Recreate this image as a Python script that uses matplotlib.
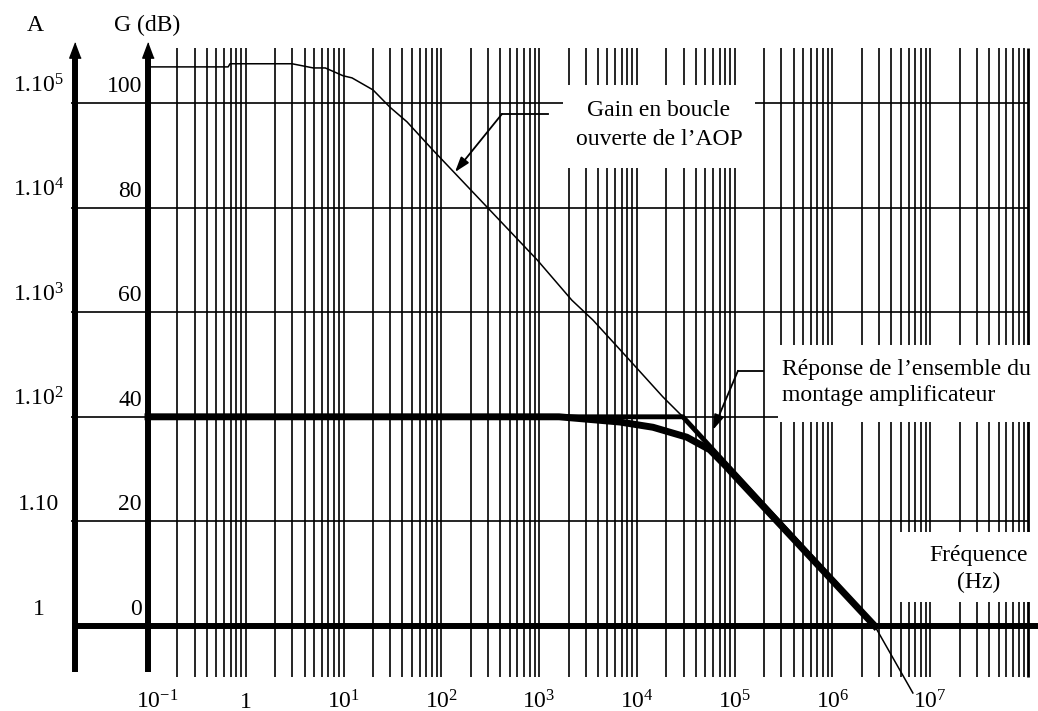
import matplotlib
matplotlib.use('Agg')
import matplotlib.pyplot as plt
from matplotlib.patches import Rectangle

plt.rcParams['font.family'] = ['Liberation Serif', 'DejaVu Serif']
plt.rcParams['mathtext.fontset'] = 'custom'
plt.rcParams['mathtext.rm'] = 'Liberation Serif'
plt.rcParams['mathtext.it'] = 'Liberation Serif:italic'
plt.rcParams['mathtext.bf'] = 'Liberation Serif:bold'
plt.rcParams['font.size'] = 17

# open loop gain of the AOP
freq_open = [0.1, 0.66, 0.69, 2.97, 4.9, 6.5, 9.9, 12.2, 20, 29.8, 44.5, 82,
             955, 2160, 3550, 7900, 18450, 29500, 2.71e6, 6.64e6]
gain_open = [106.9, 106.9, 107.5, 107.5, 106.7, 106.7, 105.2, 104.8, 102.5, 99.2,
             96.4, 91.0, 70.0, 62.3, 58.5, 51.4, 43.8, 40.0, 0.0, -12.8]

# closed loop response: asymptotes + real curve
freq_asym = [0.1, 2.95e4, 2.71e6]
gain_asym = [40, 40, 0]
freq_real = [0.1, 1600, 6700, 14600, 32400, 55700, 83000, 93600, 2.71e6]
gain_real = [40, 40, 39.0, 38.0, 36.1, 33.7, 30.4, 29.3, 0]

# axis graduations
g_ticks = [0, 20, 40, 60, 80, 100]
a_labels = ['1', '1.10', r'$\mathregular{1.10^2}$', r'$\mathregular{1.10^3}$',
            r'$\mathregular{1.10^4}$', r'$\mathregular{1.10^5}$']
decades = [1e-1, 1, 1e1, 1e2, 1e3, 1e4, 1e5, 1e6, 1e7]
decade_labels = [r'$\mathregular{10^{-1}}$', '1', r'$\mathregular{10^{1}}$',
                 r'$\mathregular{10^{2}}$', r'$\mathregular{10^{3}}$',
                 r'$\mathregular{10^{4}}$', r'$\mathregular{10^{5}}$',
                 r'$\mathregular{10^{6}}$', r'$\mathregular{10^{7}}$']

fig = plt.figure(figsize=(10.38, 7.11), dpi=100)
ax = fig.add_axes([0, 0, 1, 1])
ax.set_xscale('log')
ax.set_xlim(10 ** -2.5136, 10 ** 8.102)
ax.set_ylim(-16.25, 119.69)
ax.axis('off')

# log paper grid
grid_f = [k * 10.0 ** n for n in range(-1, 8) for k in range(2, 11)]
ax.vlines(grid_f[:-1], -9.75, 110.5, color='k', lw=1.2, zorder=2)
ax.vlines(grid_f[-1], -9.75, 110.5, color='k', lw=2.0, zorder=2)
ax.hlines(g_ticks[1:], 0.01633, 1e8, color='k', lw=1.2, zorder=2)
ax.hlines(0, 0.0166, 1e9, color='k', lw=4.3, zorder=2)

# the two vertical axes (A and G) with arrow heads
head = [(0, 1), (-0.75, -1), (0.75, -1)]
for xa in [0.01792, 0.1]:
    ax.plot([xa, xa], [-8.8, 109.0], color='k', lw=4.3, solid_capstyle='butt', zorder=5)
    ax.plot([xa], [110.1], marker=head, ms=11, color='k', zorder=5)

ax.text(0.00698, 114.9, 'A', ha='center', va='center', zorder=6)
ax.text(0.0977, 114.9, 'G (dB)', ha='center', va='center', zorder=6)
for g, lab in zip(g_ticks, a_labels):
    ax.text(0.00767, g + 2.1, lab, ha='center', va='baseline', zorder=6)
    ax.text(0.0868, g + 2.1, str(g), ha='right', va='baseline', zorder=6)

for f, lab in zip(decades, decade_labels):
    xf = 0.125 if f == 0.1 else f
    ax.text(xf, -15.68, lab, ha='center', va='baseline', zorder=6)

# curves
ax.plot(freq_open, gain_open, color='k', lw=1.1, zorder=4)
ax.plot(freq_asym, gain_asym, color='k', lw=3.5, solid_joinstyle='miter', zorder=4)
ax.plot(freq_real, gain_real, color='k', lw=5.0, zorder=4)

# white boxes for the labels
ax.add_patch(Rectangle((1754, 87.6), 1.61e5 - 1754, 103.4 - 87.6,
                       facecolor='white', edgecolor='none', zorder=3))
ax.add_patch(Rectangle((2.77e5, 39.0), 1e9, 53.7 - 39.0,
                       facecolor='white', edgecolor='none', zorder=3))
ax.add_patch(Rectangle((4.68e6, 4.6), 1e9, 18.0 - 4.6,
                       facecolor='white', edgecolor='none', zorder=3))

ax.text(1.68e4, 95.8, 'Gain en boucle\nouverte de l\u2019AOP', ha='center', va='center',
        linespacing=1.55, zorder=6)
ax.text(3.05e5, 46.6, 'R\u00e9ponse de l\u2019ensemble du\nmontage amplificateur',
        ha='left', va='center', linespacing=1.32, zorder=6)
ax.text(3.15e7, 10.9, 'Fr\u00e9quence\n(Hz)', ha='center', va='center',
        linespacing=1.32, zorder=6)

# leaders
arrow = dict(arrowstyle='-|>,head_length=0.6,head_width=0.2', color='k', lw=1.3,
             mutation_scale=15, shrinkA=0, shrinkB=0)
ax.plot([417, 1233], [97.9, 97.9], color='k', lw=1.3, zorder=4)
ax.annotate('', xy=(138, 86.8), xytext=(417, 97.9), arrowprops=arrow, zorder=4)
ax.plot([1.08e5, 1.95e5], [48.8, 48.8], color='k', lw=1.3, zorder=4)
ax.annotate('', xy=(6.0e4, 37.5), xytext=(1.08e5, 48.8), arrowprops=arrow, zorder=4)

fig.savefig('out.png', dpi=100, facecolor='white')
